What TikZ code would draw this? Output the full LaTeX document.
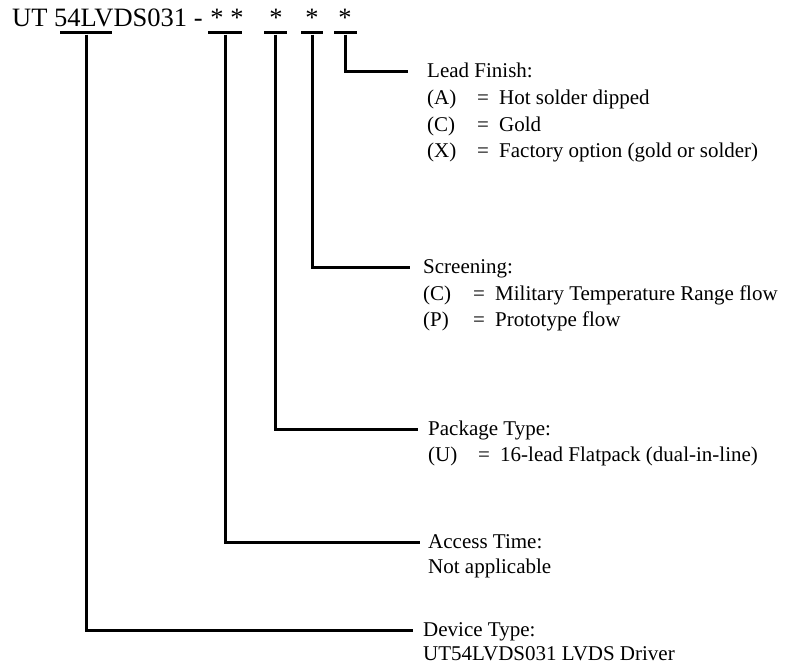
\documentclass[tikz,border=0pt]{standalone}
\usepackage{fontspec}
\setmainfont{Liberation Serif}

\newcommand{\optline}[2]{\makebox[50pt][l]{#1}\makebox[22pt][l]{=}#2}

\begin{document}
\begin{tikzpicture}[x=1pt, y=-1pt,
	lbl/.style={anchor=base west, inner sep=0pt, font=\fontsize{21}{25}\selectfont},
	head/.style={anchor=base west, inner ysep=0pt, inner xsep=10pt, text height=12pt, text depth=0pt, font=\fontsize{21}{25}\selectfont},
	bar/.style={fill=black, inner sep=0pt, minimum height=3pt},
	lead/.style={line width=3pt}]
	\useasboundingbox (0,0) rectangle (788,666);

	% part number
	\node[anchor=base west, inner sep=0pt, font=\fontsize{26.5}{30}\selectfont] (title) at (12,27) {UT 54LVDS031 -};
	\node[anchor=base, inner sep=0pt, font=\fontsize{26.5}{30}\selectfont] (s1) at (217,27) {*};
	\node[anchor=base, inner sep=0pt, font=\fontsize{26.5}{30}\selectfont] (s2) at (237,27) {*};
	\node[anchor=base, inner sep=0pt, font=\fontsize{26.5}{30}\selectfont] (s3) at (276,27) {*};
	\node[anchor=base, inner sep=0pt, font=\fontsize{26.5}{30}\selectfont] (s4) at (312,27) {*};
	\node[anchor=base, inner sep=0pt, font=\fontsize{26.5}{30}\selectfont] (s5) at (345,27) {*};

	% bars under the fields
	\node[bar, minimum width=52pt] (b1) at (86,33) {};
	\node[bar, minimum width=34pt] (b2) at (225,33) {};
	\node[bar, minimum width=23pt] (b3) at (275.5,33) {};
	\node[bar, minimum width=22pt] (b4) at (312,33) {};
	\node[bar, minimum width=23pt] (b5) at (345.5,33) {};

	% lead finish
	\node[head, inner xsep=19pt] (fin) at (408,78) {Lead Finish:};
	\node[lbl] (finA) at (427,105) {\optline{(A)}{Hot solder dipped}};
	\node[lbl] (finC) at (427,132) {\optline{(C)}{Gold}};
	\node[lbl] (finX) at (427,158) {\optline{(X)}{Factory option (gold or solder)}};

	% screening
	\node[head, inner xsep=13pt] (scr) at (410,273) {Screening:};
	\node[lbl] (scrC) at (423,300.7) {\optline{(C)}{Military Temperature Range flow}};
	\node[lbl] (scrP) at (423,326.7) {\optline{(P)}{Prototype flow}};

	% package type
	\node[head] (pkg) at (418,435) {Package Type:};
	\node[lbl] (pkgU) at (428,461) {\optline{(U)}{16-lead Flatpack (dual-in-line)}};

	% access time
	\node[head, inner xsep=8pt] (acc) at (420,548) {Access Time:};
	\node[lbl] (accN) at (428,573) {Not applicable};

	% device type
	\node[head] (dev) at (413,636) {Device Type:};
	\node[lbl] (devN) at (423,660) {UT54LVDS031 LVDS Driver};

	\draw[lead] (b5) |- (fin);
	\draw[lead] (b4) |- (scr);
	\draw[lead] (b3) |- (pkg);
	\draw[lead] (b2) |- (acc);
	\draw[lead] (b1) |- (dev);
\end{tikzpicture}
\end{document}
